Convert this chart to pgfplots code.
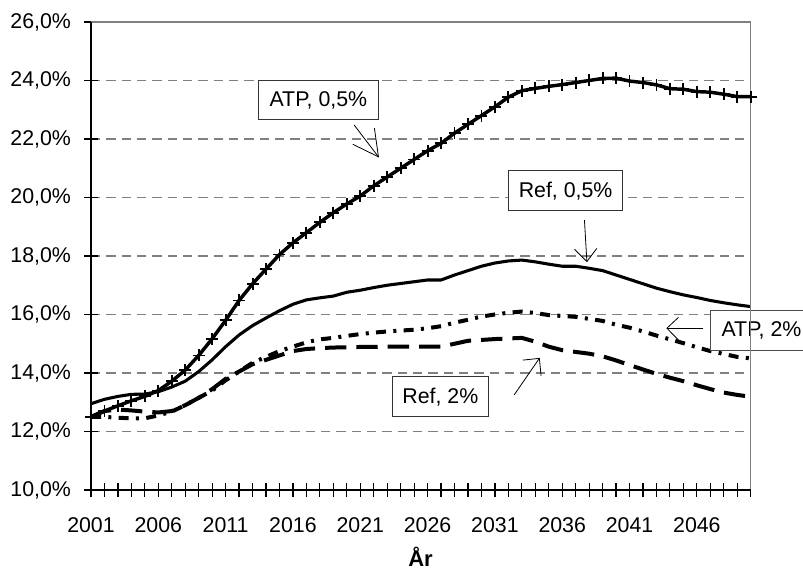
\documentclass[border=0pt]{standalone}
\usepackage{fontspec}
\setmainfont{Liberation Sans}
\usepackage{pgfplots}
\pgfplotsset{compat=1.18}
\usepackage{pgfplotstable}

\pgfplotstableread{
year atp05 ref05 atp2 ref2
2001 12.50 12.95 12.50 12.50
2002 12.70 13.10 12.50 12.70
2003 12.88 13.20 12.47 12.75
2004 13.05 13.27 12.45 12.72
2005 13.20 13.28 12.45 12.68
2006 13.40 13.36 12.55 12.65
2007 13.72 13.52 12.68 12.70
2008 14.10 13.72 12.90 12.90
2009 14.60 14.05 13.15 13.15
2010 15.17 14.45 13.40 13.45
2011 15.80 14.90 13.75 13.80
2012 16.48 15.30 14.05 14.05
2013 17.05 15.62 14.35 14.30
2014 17.55 15.88 14.55 14.45
2015 18.05 16.13 14.75 14.60
2016 18.45 16.35 14.90 14.75
2017 18.80 16.50 15.05 14.82
2018 19.15 16.57 15.15 14.85
2019 19.48 16.63 15.20 14.87
2020 19.78 16.76 15.27 14.88
2021 20.05 16.83 15.33 14.89
2022 20.40 16.92 15.38 14.89
2023 20.70 17.00 15.42 14.90
2024 21.00 17.06 15.45 14.90
2025 21.30 17.12 15.48 14.90
2026 21.60 17.18 15.53 14.90
2027 21.85 17.18 15.60 14.90
2028 22.20 17.35 15.72 15.00
2029 22.50 17.50 15.82 15.10
2030 22.80 17.65 15.93 15.13
2031 23.10 17.76 16.00 15.16
2032 23.43 17.83 16.06 15.18
2033 23.65 17.86 16.10 15.20
2034 23.73 17.80 16.05 15.07
2035 23.80 17.72 15.98 14.90
2036 23.86 17.65 15.95 14.78
2037 23.93 17.65 15.92 14.72
2038 24.00 17.58 15.85 14.66
2039 24.07 17.50 15.78 14.57
2040 24.08 17.35 15.65 14.43
2041 23.98 17.20 15.55 14.27
2042 23.93 17.05 15.42 14.12
2043 23.85 16.90 15.28 13.97
2044 23.72 16.78 15.15 13.84
2045 23.70 16.67 15.02 13.72
2046 23.62 16.58 14.88 13.58
2047 23.60 16.48 14.75 13.45
2048 23.53 16.40 14.65 13.33
2049 23.45 16.33 14.55 13.25
2050 23.45 16.27 14.50 13.19
}\data

\begin{document}
\begin{tikzpicture}
\useasboundingbox (0pt,0pt) rectangle (602.25pt,430.5pt);
\begin{axis}[
  at={(68.25pt,63pt)}, anchor=south west,
  scale only axis, width=494.8pt, height=351pt,
  xmin=2001, xmax=2050, ymin=10, ymax=26,
  clip=false,
  axis line style={draw=none},
  font=\fontsize{16}{18}\selectfont,
  xtick pos=bottom, ytick pos=left,
  xtick={2001,2006,...,2046},
  xticklabels={2001,2006,2011,2016,2021,2026,2031,2036,2041,2046},
  minor xtick={2001,...,2050},
  ytick={10,12,...,26},
  yticklabels={{10,0\%},{12,0\%},{14,0\%},{16,0\%},{18,0\%},{20,0\%},{22,0\%},{24,0\%},{26,0\%}},
  tick align=center,
  major tick length=10pt, minor tick length=10pt,
  tick style={black, line width=0.9pt},
  xticklabel style={yshift=-12pt},
  yticklabel style={xshift=-6.5pt},
  ymajorgrids,
  major grid style={draw=black!50, line width=1pt, dash pattern=on 7pt off 4.5pt},
]
\addplot[black, line width=2.6pt, mark=+, mark size=4.5pt, mark options={solid, line width=1.4pt}] table[x=year,y=atp05] {\data};
\addplot[black, line width=2.3pt] table[x=year,y=ref05] {\data};
\addplot[black, line width=3pt, dash pattern=on 7.5pt off 5.5pt on 2.25pt off 5.5pt] table[x=year,y=atp2] {\data};
\addplot[black, line width=3pt, dash pattern=on 16pt off 7.5pt] table[x=year,y=ref2] {\data};

% annotations
\node[draw=black!80, fill=white, line width=0.75pt, minimum width=90pt, minimum height=29.25pt, inner sep=0pt, font=\fontsize{16}{18}\selectfont] at (axis cs:2017.89,23.32) {ATP, 0,5\%};
\draw[black, line width=0.6pt] (axis cs:2020.54,22.48) -- (axis cs:2022.35,21.39);
\draw[black, line width=0.6pt] (axis cs:2022.05,22.37) -- (axis cs:2022.35,21.39) -- (axis cs:2020.44,21.82);

\node[draw=black!80, fill=white, line width=0.75pt, minimum width=85.5pt, minimum height=30pt, inner sep=0pt, font=\fontsize{16}{18}\selectfont] at (axis cs:2036.25,20.23) {Ref, 0,5\%};
\draw[black, line width=0.6pt] (axis cs:2037.65,19.23) -- (axis cs:2037.83,17.81);
\draw[black, line width=0.6pt] (axis cs:2036.91,18.23) -- (axis cs:2037.83,17.81) -- (axis cs:2038.57,18.26);

\node[draw=black!70, fill=white, line width=0.75pt, minimum width=76pt, minimum height=30pt, inner sep=0pt, font=\fontsize{16}{18}\selectfont] at (axis cs:2050.8,15.45) {ATP, 2\%};
\draw[black, line width=0.6pt] (axis cs:2046.49,15.53) -- (axis cs:2043.77,15.53);
\draw[black, line width=0.6pt] (axis cs:2044.63,15.90) -- (axis cs:2043.77,15.53) -- (axis cs:2044.63,15.13);

\node[draw=black!80, fill=white, line width=0.75pt, minimum width=72pt, minimum height=30pt, inner sep=0pt, font=\fontsize{16}{18}\selectfont] at (axis cs:2026.95,13.19) {Ref, 2\%};
\draw[black, line width=0.6pt] (axis cs:2032.43,13.25) -- (axis cs:2034.3,14.5);
\draw[black, line width=0.6pt] (axis cs:2033.07,14.44) -- (axis cs:2034.3,14.5) -- (axis cs:2034.43,13.9);

% frame
\draw[black!50, line width=1pt] (rel axis cs:0,1) -- (rel axis cs:1,1) -- (rel axis cs:1,0);
\draw[black, line width=1pt] (rel axis cs:0,1) -- (rel axis cs:0,0) -- (rel axis cs:1,0);
\end{axis}
\node[font=\fontsize{16.5}{19}\selectfont\bfseries] at (315.4pt,12.75pt) {År};
\end{tikzpicture}
\end{document}
